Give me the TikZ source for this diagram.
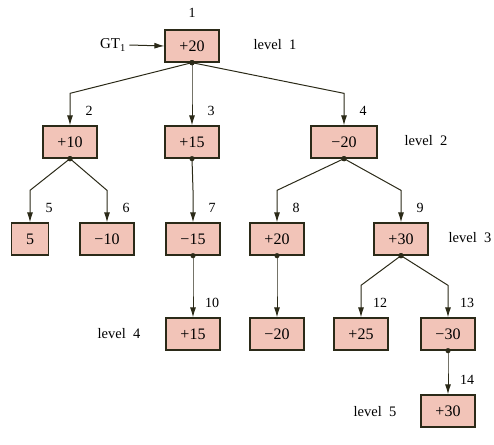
\documentclass[tikz,border=0pt]{standalone}
\usepackage{fontspec}
\setmainfont{Liberation Serif}
\usetikzlibrary{arrows.meta}
\definecolor{boxfill}{HTML}{F2C4B8}
\definecolor{boxline}{HTML}{2B2A18}
\tikzset{
	state/.style={draw=boxline, line width=1.3pt, fill=boxfill,
		minimum width=54pt, minimum height=32pt, inner sep=2pt,
		font=\fontsize{16}{18}\selectfont},
	link/.style={-{Latex[length=10pt,width=6pt]}, line width=1pt, boxline},
	num/.style={font=\fontsize{14}{16}\selectfont},
	lvl/.style={font=\fontsize{14.5}{17}\selectfont},
}
\newcommand{\branch}[2]{%
	\fill[boxline] (#1.south) circle (2.6pt);
	\draw[link] (#1.south) -- ([yshift=32pt]#2.north) -- (#2.north);}

\begin{document}
\begin{tikzpicture}[x=1pt,y=-1pt]
		\useasboundingbox (0,0) rectangle (494,444);
		% level 1
		\node[state] (n1) at (192,46) {+20};
		\node (gt) at (113,45) {\fontsize{15}{17}\selectfont GT\textsubscript{1}};
		\draw[link] (gt.east) -- (n1.west);
		% level 2
		\node[state] (n2) at (70,142) {+10};
		\node[state] (n3) at (192,142) {+15};
		\node[state, minimum width=66pt] (n4) at (344,142) {−20};
		% level 3
		\node[state, minimum width=37pt] (n5) at (30,239) {5};
		\node[state] (n6) at (107,239) {−10};
		\node[state] (n7) at (193,239) {−15};
		\node[state] (n8) at (277,239) {+20};
		\node[state] (n9) at (401,239) {+30};
		% level 4
		\node[state] (n10) at (193,334) {+15};
		\node[state] (n11) at (277,334) {−20};
		\node[state] (n12) at (361,334) {+25};
		\node[state] (n13) at (448,334) {−30};
		% level 5
		\node[state] (n14) at (448,411) {+30};
		% links
		\branch{n1}{n2} \branch{n1}{n3} \branch{n1}{n4}
		\branch{n2}{n5} \branch{n2}{n6} \branch{n3}{n7}
		\branch{n4}{n8} \branch{n4}{n9}
		\branch{n7}{n10} \branch{n8}{n11}
		\branch{n9}{n12} \branch{n9}{n13} \branch{n13}{n14}
		% numbers
		\node[num] at ([yshift=16pt]n1.north) {1};
		\foreach \k in {2,...,10,12,13,14}
			\node[num] at ([xshift=19pt,yshift=14pt]n\k.north) {\k};
		% levels
		\node[lvl] at (275,45) {level\ \ 1};
		\node[lvl] at (426,141) {level\ \ 2};
		\node[lvl] at (470,238) {level\ \ 3};
		\node[lvl] at (119,334) {level\ \ 4};
		\node[lvl] at (375,412) {level\ \ 5};
	\end{tikzpicture}
\end{document}
